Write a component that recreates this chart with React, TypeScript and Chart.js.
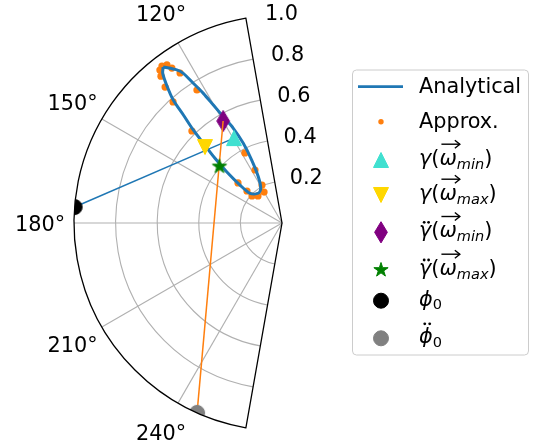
import React, { useEffect, useRef } from "react";
import { Chart, registerables } from "chart.js";
Chart.register(...registerables);

// ---- axis definition ----
const THETA_MIN = 100;
const THETA_MAX = 260;
const radialTicks = [0.2, 0.4, 0.6, 0.8, 1.0];
const radialTickLabels = ["0.2", "0.4", "0.6", "0.8", "1.0"];
const angleTicks = [120, 150, 180, 210, 240];
const angleTickLabels = ["120°", "150°", "180°", "210°", "240°"];

// ---- data (theta in degrees, r) ----
const analyticalTheta = [127.3, 124.5, 123.4, 122.4, 121.25, 120.2, 118.9, 117.2, 115.9, 115.7, 117.1, 121.5, 128.6, 137.1, 137.9, 137.15, 136.0, 134.6, 133.65, 132.4, 131.5, 129.9, 128.55, 127.3];
const analyticalR = [0.943, 0.893, 0.862, 0.796, 0.729, 0.656, 0.584, 0.512, 0.426, 0.336, 0.25, 0.196, 0.183, 0.21, 0.272, 0.363, 0.448, 0.539, 0.618, 0.703, 0.789, 0.865, 0.92, 0.943];

const approxTheta = [128.6, 127.4, 126.05, 125.4, 124.2, 122.6, 129.5, 130.7, 132.0, 134.4, 117.9, 117.0, 117.8, 120.1, 131.6, 137.6, 137.7, 138.0];
const approxR = [0.941, 0.95, 0.94, 0.914, 0.872, 0.759, 0.915, 0.862, 0.783, 0.619, 0.381, 0.286, 0.206, 0.172, 0.174, 0.228, 0.286, 0.194];

const gammaMinTheta = [119.5];
const gammaMinR = [0.469];
const gammaMaxTheta = [135.4];
const gammaMaxR = [0.52];
const gammaDDMinTheta = [120.0];
const gammaDDMinR = [0.566];
const gammaDDMaxTheta = [137.9];
const gammaDDMaxR = [0.405];
const phi0Theta = [175.6];
const phi0R = [1.0];
const phiDD0Theta = [245.9];
const phiDD0R = [1.0];

// ---- styling ----
const FONT = '"DejaVu Sans"';
const FS = 20.8;
const MS = 15;
const C_BLUE = "#1f77b4";
const C_ORANGE = "#ff7f0e";
const C_TURQ = "#40e0d0";
const C_GOLD = "#ffd700";
const C_PURPLE = "#800080";
const C_GREEN = "#008000";
const C_BLACK = "#000000";
const C_GRAY = "#808080";

const D2R = Math.PI / 180;
const toXY = (th: number[], r: number[]) => th.map((t, i) => ({ x: r[i] * Math.cos(t * D2R), y: r[i] * Math.sin(t * D2R) }));

function markerPath(ctx: CanvasRenderingContext2D, kind: string, x: number, y: number) {
  const h = MS / 2;
  ctx.beginPath();
  if (kind === "triUp") {
    ctx.moveTo(x, y - h); ctx.lineTo(x - h, y + h); ctx.lineTo(x + h, y + h); ctx.closePath();
  } else if (kind === "triDown") {
    ctx.moveTo(x, y + h); ctx.lineTo(x - h, y - h); ctx.lineTo(x + h, y - h); ctx.closePath();
  } else if (kind === "thinDiamond") {
    const d = (MS * Math.SQRT2) / 2;
    ctx.moveTo(x, y - d); ctx.lineTo(x + 0.6 * d, y); ctx.lineTo(x, y + d); ctx.lineTo(x - 0.6 * d, y); ctx.closePath();
  } else if (kind === "star") {
    for (let i = 0; i < 10; i++) {
      const a = (-90 + i * 36) * D2R;
      const rr = i % 2 ? h * 0.381966 : h;
      const px = x + rr * Math.cos(a), py = y + rr * Math.sin(a);
      if (i === 0) ctx.moveTo(px, py); else ctx.lineTo(px, py);
    }
    ctx.closePath();
  } else {
    ctx.arc(x, y, h, 0, Math.PI * 2);
  }
}

function drawMarker(ctx: CanvasRenderingContext2D, kind: string, x: number, y: number, color: string) {
  ctx.save();
  ctx.fillStyle = color;
  ctx.strokeStyle = color;
  ctx.lineWidth = 1;
  ctx.lineJoin = "miter";
  markerPath(ctx, kind, x, y);
  ctx.fill();
  ctx.stroke();
  ctx.restore();
}

function markerCanvas(kind: string, color: string) {
  const c = document.createElement("canvas");
  c.width = 28; c.height = 28;
  const ctx = c.getContext("2d")!;
  drawMarker(ctx, kind, 14, 14, color);
  return c;
}

type Seg = { t: string; it?: boolean; sub?: boolean; vec?: boolean; ddot?: number };

function drawMath(ctx: CanvasRenderingContext2D, segs: Seg[], x: number, base: number) {
  let cx = x;
  ctx.fillStyle = "#000";
  ctx.strokeStyle = "#000";
  ctx.textAlign = "left";
  ctx.textBaseline = "alphabetic";
  for (const s of segs) {
    const size = s.sub ? FS * 0.7 : FS;
    ctx.font = `${s.it ? "italic " : ""}${size}px ${FONT}`;
    const yb = s.sub ? base + FS * 0.17 : base;
    ctx.fillText(s.t, cx, yb);
    const w = ctx.measureText(s.t).width;
    if (s.vec) {
      const ay = base - FS * 1.0;
      const x0 = cx + 2, x1 = cx + w + 3;
      ctx.lineWidth = 1.4;
      ctx.beginPath(); ctx.moveTo(x0, ay); ctx.lineTo(x1, ay); ctx.stroke();
      ctx.beginPath(); ctx.moveTo(x1 - 5, ay - 4); ctx.lineTo(x1, ay); ctx.lineTo(x1 - 5, ay + 4); ctx.stroke();
    }
    if (s.ddot) {
      const dy = base - s.ddot;
      for (const f of [0.42, 0.78]) {
        ctx.beginPath(); ctx.arc(cx + w * f, dy, 1.4, 0, Math.PI * 2); ctx.fill();
      }
    }
    cx += w;
  }
}

const legendRows: { kind: string; color: string; y: number; label: Seg[] }[] = [
  { kind: "line", color: C_BLUE, y: 86.7, label: [{ t: "Analytical" }] },
  { kind: "dot", color: C_ORANGE, y: 121.7, label: [{ t: "Approx." }] },
  { kind: "triUp", color: C_TURQ, y: 160, label: [{ t: "γ", it: true }, { t: "(" }, { t: "ω", it: true, vec: true }, { t: "min", it: true, sub: true }, { t: ")" }] },
  { kind: "triDown", color: C_GOLD, y: 195, label: [{ t: "γ", it: true }, { t: "(" }, { t: "ω", it: true, vec: true }, { t: "max", it: true, sub: true }, { t: ")" }] },
  { kind: "thinDiamond", color: C_PURPLE, y: 232.3, label: [{ t: "γ", it: true, ddot: 15 }, { t: "(" }, { t: "ω", it: true, vec: true }, { t: "min", it: true, sub: true }, { t: ")" }] },
  { kind: "star", color: C_GREEN, y: 270, label: [{ t: "γ", it: true, ddot: 15 }, { t: "(" }, { t: "ω", it: true, vec: true }, { t: "max", it: true, sub: true }, { t: ")" }] },
  { kind: "circle", color: C_BLACK, y: 300.7, label: [{ t: "ϕ", it: true }, { t: "0", sub: true }] },
  { kind: "circle", color: C_GRAY, y: 338.3, label: [{ t: "ϕ", it: true, ddot: 19.5 }, { t: "0", sub: true }] },
];

const polarPlugin = {
  id: "polarFrame",
  beforeDatasetsDraw(chart: any) {
    const { ctx, scales } = chart;
    const cx = scales.x.getPixelForValue(0);
    const cy = scales.y.getPixelForValue(0);
    const R = scales.x.getPixelForValue(1) - cx;
    const a0 = -THETA_MIN * D2R, a1 = -THETA_MAX * D2R;
    ctx.save();
    ctx.strokeStyle = "#b0b0b0";
    ctx.lineWidth = 1.1;
    for (const r of radialTicks) {
      if (r >= 1) continue;
      ctx.beginPath(); ctx.arc(cx, cy, r * R, a0, a1, true); ctx.stroke();
    }
    for (const t of angleTicks) {
      ctx.beginPath(); ctx.moveTo(cx, cy);
      ctx.lineTo(cx + R * Math.cos(t * D2R), cy - R * Math.sin(t * D2R)); ctx.stroke();
    }
    ctx.restore();
    ctx.save();
    ctx.beginPath(); ctx.moveTo(cx, cy); ctx.arc(cx, cy, R, a0, a1, true); ctx.closePath();
    ctx.clip();
  },
  afterDatasetsDraw(chart: any) {
    const { ctx, scales } = chart;
    ctx.restore();
    const cx = scales.x.getPixelForValue(0);
    const cy = scales.y.getPixelForValue(0);
    const R = scales.x.getPixelForValue(1) - cx;
    const a0 = -THETA_MIN * D2R, a1 = -THETA_MAX * D2R;
    ctx.save();
    ctx.strokeStyle = "#000";
    ctx.lineWidth = 1.3;
    ctx.lineJoin = "miter";
    ctx.beginPath(); ctx.moveTo(cx, cy); ctx.arc(cx, cy, R, a0, a1, true); ctx.closePath(); ctx.stroke();
    ctx.fillStyle = "#000";
    ctx.font = `${FS}px ${FONT}`;
    ctx.textBaseline = "alphabetic";
    ctx.textAlign = "center";
    const cap = FS * 0.729;
    angleTicks.forEach((t, i) => {
      const d = R * 1.163;
      ctx.fillText(angleTickLabels[i], cx + d * Math.cos(t * D2R), cy - d * Math.sin(t * D2R) + cap / 2);
    });
    ctx.textAlign = "left";
    radialTicks.forEach((r, i) => {
      const ex = cx + r * R * Math.cos(THETA_MIN * D2R);
      const ey = cy - r * R * Math.sin(THETA_MIN * D2R);
      ctx.fillText(radialTickLabels[i], ex + 14 + 5 * r, ey + 2);
    });
    ctx.restore();
  },
  afterDraw(chart: any) {
    const { ctx } = chart;
    ctx.save();
    // legend frame
    const bx = 352.5, by = 70, bw = 176, bh = 285, rad = 4;
    ctx.beginPath();
    ctx.moveTo(bx + rad, by);
    ctx.arcTo(bx + bw, by, bx + bw, by + bh, rad);
    ctx.arcTo(bx + bw, by + bh, bx, by + bh, rad);
    ctx.arcTo(bx, by + bh, bx, by, rad);
    ctx.arcTo(bx, by, bx + bw, by, rad);
    ctx.closePath();
    ctx.fillStyle = "rgba(255,255,255,0.8)";
    ctx.fill();
    ctx.strokeStyle = "#cccccc";
    ctx.lineWidth = 1;
    ctx.stroke();
    const mx = 381, tx = 419;
    for (const row of legendRows) {
      if (row.kind === "line") {
        ctx.strokeStyle = row.color; ctx.lineWidth = 2.8;
        ctx.beginPath(); ctx.moveTo(358, row.y); ctx.lineTo(403, row.y); ctx.stroke();
      } else if (row.kind === "dot") {
        ctx.fillStyle = row.color;
        ctx.beginPath(); ctx.arc(mx, row.y, 2.7, 0, Math.PI * 2); ctx.fill();
      } else {
        drawMarker(ctx, row.kind, mx, row.y, row.color);
      }
      const plain = row.label.length === 1;
      drawMath(ctx, row.label, tx, row.y + (plain ? 6.3 : 5));
    }
    ctx.restore();
  },
};

export default function App() {
  const ref = useRef<HTMLCanvasElement>(null);
  useEffect(() => {
    const canvas = ref.current!;
    const R = 208;
    const cxPix = 282, cyPix = 223;
    const xMin = -1, xMax = 0.2, yMin = -1, yMax = 1;
    const left = cxPix + xMin * R;
    const top = cyPix - yMax * R;
    const right = 534 - (cxPix + xMax * R);
    const bottom = 444 - (cyPix - yMin * R);
    const pt = (kind: string, color: string) => markerCanvas(kind, color);
    const chart = new Chart(canvas, {
      type: "scatter",
      data: {
        datasets: [
          { label: "Approx.", data: toXY(approxTheta, approxR), pointRadius: 3.6, pointBackgroundColor: C_ORANGE, pointBorderWidth: 0, backgroundColor: C_ORANGE, order: 9, clip: false } as any,
          { label: "Analytical", data: toXY(analyticalTheta, analyticalR), showLine: true, borderColor: C_BLUE, borderWidth: 3, pointRadius: 0, tension: 0.3, order: 8, clip: false } as any,
          { label: "phi0 line", data: [...toXY(phi0Theta, phi0R), ...toXY(gammaMinTheta, gammaMinR)], showLine: true, borderColor: C_BLUE, borderWidth: 1.5, pointRadius: 0, order: 7, clip: false } as any,
          { label: "gammaMin", data: toXY(gammaMinTheta, gammaMinR), pointStyle: pt("triUp", C_TURQ), pointRadius: 7.5, order: 6, clip: false } as any,
          { label: "gammaMax", data: toXY(gammaMaxTheta, gammaMaxR), pointStyle: pt("triDown", C_GOLD), pointRadius: 7.5, order: 5, clip: false } as any,
          { label: "gammaDDMin", data: toXY(gammaDDMinTheta, gammaDDMinR), pointStyle: pt("thinDiamond", C_PURPLE), pointRadius: 7.5, order: 4, clip: false } as any,
          { label: "phiDD0 line", data: [...toXY(phiDD0Theta, phiDD0R), ...toXY(gammaDDMinTheta, gammaDDMinR)], showLine: true, borderColor: C_ORANGE, borderWidth: 1.5, pointRadius: 0, order: 3, clip: false } as any,
          { label: "gammaDDMax", data: toXY(gammaDDMaxTheta, gammaDDMaxR), pointStyle: pt("star", C_GREEN), pointRadius: 7.5, order: 2, clip: false } as any,
          { label: "phi0", data: toXY(phi0Theta, phi0R), pointStyle: pt("circle", C_BLACK), pointRadius: 7.5, order: 1, clip: false } as any,
          { label: "phiDD0", data: toXY(phiDD0Theta, phiDD0R), pointStyle: pt("circle", C_GRAY), pointRadius: 7.5, order: 0, clip: false } as any,
        ],
      },
      options: {
        animation: false,
        responsive: false,
        maintainAspectRatio: false,
        devicePixelRatio: 1,
        layout: { padding: { left, top, right, bottom } },
        events: [],
        scales: {
          x: { type: "linear", min: xMin, max: xMax, display: false },
          y: { type: "linear", min: yMin, max: yMax, display: false },
        },
        plugins: { legend: { display: false }, tooltip: { enabled: false } },
      },
      plugins: [polarPlugin],
    });
    return () => chart.destroy();
  }, []);
  return (
    <div style={{ position: "fixed", left: 0, top: 0, width: 534, height: 444, background: "#fff" }}>
      <canvas ref={ref} width={534} height={444} style={{ width: 534, height: 444, display: "block" }} />
    </div>
  );
}
